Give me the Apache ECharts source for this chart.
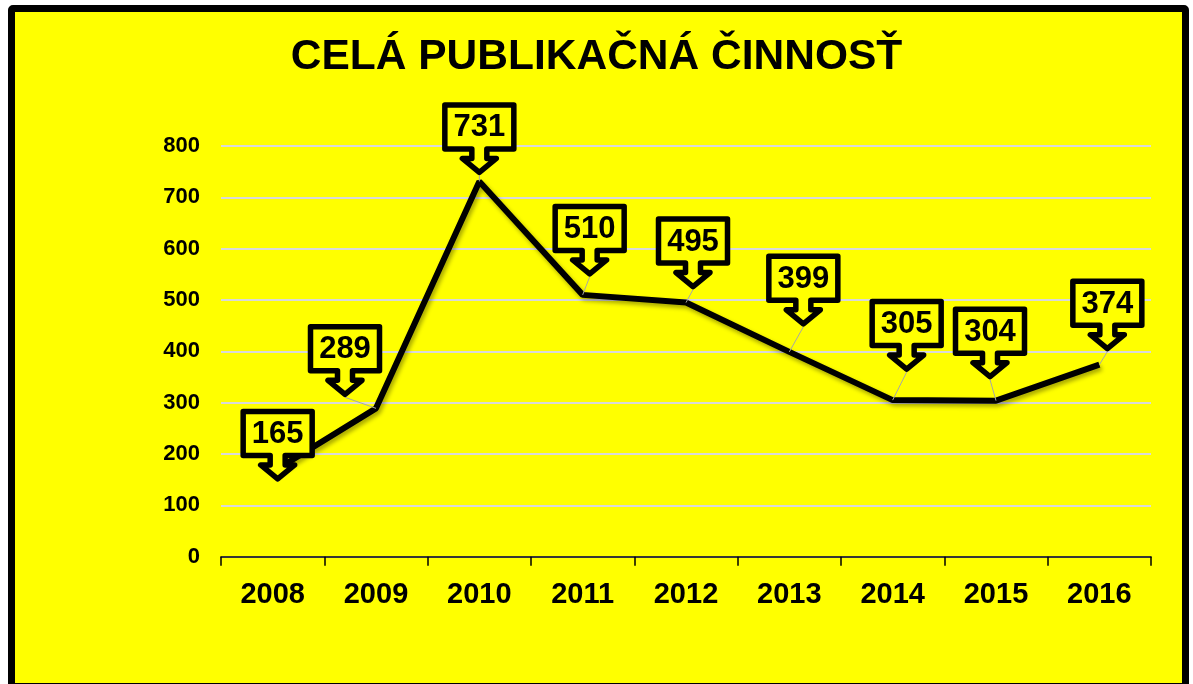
<!DOCTYPE html>
<html>
<head>
<meta charset="utf-8">
<title>CELÁ PUBLIKAČNÁ ČINNOSŤ</title>
<script src="https://cdn.jsdelivr.net/npm/echarts@6/dist/echarts.min.js"></script>
<style>
  html, body { margin: 0; padding: 0; background: #fff; overflow: hidden; }
  #frame {
    position: absolute; left: 7.5px; top: 5px; width: 1181.5px; height: 685px;
    box-sizing: border-box; border: 7.5px solid #000; border-radius: 5px; background: #ffff00;
  }
  #chart { position: absolute; left: 0; top: 0; width: 1193px; height: 684px; }
</style>
</head>
<body>
<div id="frame"></div>
<div id="chart"></div>
<script>
// data
const years = ["2008", "2009", "2010", "2011", "2012", "2013", "2014", "2015", "2016"];
const counts = [165, 289, 731, 510, 495, 399, 305, 304, 374];
const yTicks = [0, 100, 200, 300, 400, 500, 600, 700, 800];

// where the callout arrow tip sits, relative to its point (px)
const tipOffsets = [
  [5, 10], [-31, -11], [0, -6], [7, -18], [7, -13],
  [14, -25], [14, -28], [-6, -21], [8, -13]
];

(function () {
  const myChart = echarts.init(document.getElementById("chart"));
  const font = "'Liberation Sans', Arial, sans-serif";

  // callout outline, tip at 0,0
  const shape = [
    [-34.5, -70.5], [34.5, -70.5], [34.5, -26.5], [7.5, -26.5], [7.5, -17],
    [17, -17], [0, -3], [-17, -17], [-7.5, -17], [-7.5, -26.5], [-34.5, -26.5]
  ];

  function renderCallout(params, api) {
    const pt = api.coord([api.value(0), api.value(1)]);
    const off = tipOffsets[params.dataIndex];
    const tx = pt[0] + off[0];
    const ty = pt[1] + off[1];
    return {
      type: "group",
      children: [
        {
          type: "line",
          shape: { x1: tx, y1: ty, x2: pt[0], y2: pt[1] },
          style: { stroke: "#a6a6a6", lineWidth: 1 },
        },
        {
          type: "polygon",
          shape: { points: shape.map(function (p) { return [tx + p[0], ty + p[1]]; }) },
          style: { fill: "#ffff00", stroke: "#000", lineWidth: 5.5, lineJoin: "round" },
        },
        {
          type: "text",
          style: {
            text: String(api.value(1)),
            x: tx,
            y: ty - 47.5,
            align: "center",
            verticalAlign: "middle",
            font: "bold 31px " + font,
            fill: "#000",
          },
        },
      ],
    };
  }

  const option = {
    backgroundColor: "transparent",
    animation: false,
    title: {
      text: "CELÁ PUBLIKAČNÁ ČINNOSŤ",
      left: "center",
      top: 31,
      textStyle: { fontFamily: font, fontSize: 42.5, fontWeight: "bold", color: "#000" },
    },
    grid: { left: 221, right: 42, top: 146, bottom: 127.3 },
    xAxis: {
      type: "category",
      data: years,
      boundaryGap: true,
      axisLine: { lineStyle: { color: "#000", width: 1.5 } },
      axisTick: { show: true, length: 9, lineStyle: { color: "#000", width: 1.5 } },
      axisLabel: { fontFamily: font, fontSize: 29, fontWeight: "bold", color: "#000", margin: 24 },
    },
    yAxis: {
      type: "value",
      min: yTicks[0],
      max: yTicks[yTicks.length - 1],
      interval: 100,
      axisLine: { show: false },
      axisTick: { show: false },
      axisLabel: { fontFamily: font, fontSize: 22, fontWeight: "bold", color: "#000", margin: 21 },
      splitLine: { lineStyle: { color: "#d9d9d9", width: 2 } },
    },
    series: [
      {
        type: "line",
        data: counts,
        symbol: "none",
        z: 2,
        lineStyle: {
          color: "#000",
          width: 6,
          shadowColor: "rgba(0,0,0,0.35)",
          shadowBlur: 4,
          shadowOffsetX: 2,
          shadowOffsetY: 3,
        },
      },
      {
        type: "custom",
        z: 5,
        clip: false,
        renderItem: renderCallout,
        data: counts.map(function (v, i) { return [i, v]; }),
      },
    ],
  };
  myChart.setOption(option);

  window.addEventListener("resize", function () {
    myChart.resize();
  });
})();
</script>
</body>
</html>
